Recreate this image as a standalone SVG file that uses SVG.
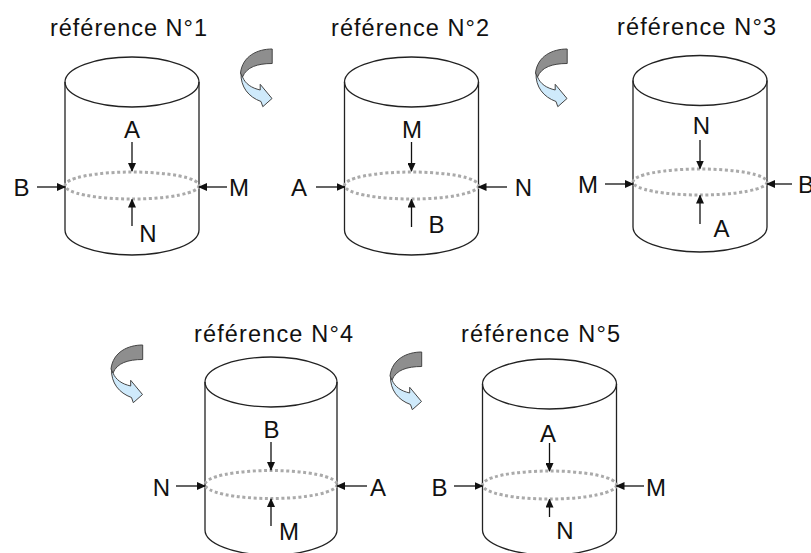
<svg xmlns="http://www.w3.org/2000/svg" width="811" height="553" viewBox="0 0 811 553">
<defs>
<style>
.title{font-family:"Liberation Sans",Arial,sans-serif;font-size:23.5px;fill:#111}
.lbl{font-family:"Liberation Sans",Arial,sans-serif;font-size:24px;fill:#111;text-anchor:middle}
.cyl{fill:none;stroke:#222;stroke-width:1.3}
.dot{fill:none;stroke:#aaa;stroke-width:3;stroke-dasharray:3 2.6}
.arr{fill:none;stroke:#111;stroke-width:1.3;marker-end:url(#ah)}
.gray{fill:#8e8e8e;stroke:#444;stroke-width:1}
.blue{fill:#cfeafb;stroke:#444;stroke-width:1}
</style>
<marker id="ah" markerWidth="9" markerHeight="8" refX="8" refY="4" orient="auto" markerUnits="userSpaceOnUse">
<path d="M0,0 L9,4 L0,8 Z" fill="#111"/>
</marker>
<g id="icon">
<path class="blue" d="M11.5,38 C11,52 19,62 31.5,66.5 L33.3,71.7 L42.5,63.5 L30.7,49.3 L30.7,55 C22,53 16,49 13,42 Z"/>
<path class="gray" d="M42.7,14 C28,14 13,21 11,38 L13,42 C17,32 28,28.5 42.7,28.5 Z"/>
</g>
</defs>
<rect width="811" height="553" fill="#fff"/>

<g id="rot1"><use href="#icon" transform="translate(229.5,35)"/></g>
<g id="rot2"><use href="#icon" transform="translate(524.5,35)"/></g>
<g id="rot3"><use href="#icon" transform="translate(100,331)"/></g>
<g id="rot4"><use href="#icon" transform="translate(379,338)"/></g>

<g id="ref1">
<text class="title" x="50" y="36" textLength="157" lengthAdjust="spacing">référence N°1</text>
<ellipse class="cyl" cx="132" cy="82" rx="67" ry="25"/>
<path class="cyl" d="M65,82 V230 A67,25 0 0 0 199,230 V82"/>
<ellipse class="dot" cx="132" cy="185.5" rx="67" ry="13.5"/>
<text class="lbl" x="132" y="138">A</text>
<text class="lbl" x="21.5" y="196">B</text>
<text class="lbl" x="239" y="196">M</text>
<text class="lbl" x="148" y="242">N</text>
</g>

<g id="ref2">
<text class="title" x="331" y="36" textLength="158" lengthAdjust="spacing">référence N°2</text>
<ellipse class="cyl" cx="411.5" cy="82" rx="67" ry="25"/>
<path class="cyl" d="M344.5,82 V230 A67,25 0 0 0 478.5,230 V82"/>
<ellipse class="dot" cx="411.5" cy="185.5" rx="67" ry="13.5"/>
<text class="lbl" x="412" y="138">M</text>
<text class="lbl" x="299" y="196">A</text>
<text class="lbl" x="523.5" y="196">N</text>
<text class="lbl" x="436.5" y="233">B</text>
</g>

<g id="ref3">
<text class="title" x="617" y="35" textLength="159" lengthAdjust="spacing">référence N°3</text>
<ellipse class="cyl" cx="700" cy="80.5" rx="67" ry="25"/>
<path class="cyl" d="M633,80.5 V227 A67,25 0 0 0 767,227 V80.5"/>
<ellipse class="dot" cx="700" cy="182" rx="67" ry="13"/>
<text class="lbl" x="701.5" y="134">N</text>
<text class="lbl" x="588" y="193">M</text>
<text class="lbl" x="806" y="193">B</text>
<text class="lbl" x="721.5" y="237">A</text>
</g>

<g id="ref4">
<text class="title" x="194" y="342" textLength="159" lengthAdjust="spacing">référence N°4</text>
<ellipse class="cyl" cx="271" cy="382" rx="66" ry="25"/>
<path class="cyl" d="M205,382 V530 A66,25 0 0 0 337,530 V382"/>
<ellipse class="dot" cx="271" cy="484.5" rx="66" ry="14"/>
<text class="lbl" x="271.5" y="438">B</text>
<text class="lbl" x="161.5" y="496">N</text>
<text class="lbl" x="378" y="496">A</text>
<text class="lbl" x="289" y="540">M</text>
</g>

<g id="ref5">
<text class="title" x="461" y="342" textLength="159" lengthAdjust="spacing">référence N°5</text>
<ellipse class="cyl" cx="549.5" cy="384" rx="67" ry="25"/>
<path class="cyl" d="M482.5,384 V530 A67,25 0 0 0 616.5,530 V384"/>
<ellipse class="dot" cx="549.5" cy="485" rx="67" ry="14"/>
<text class="lbl" x="548" y="442">A</text>
<text class="lbl" x="439.5" y="496">B</text>
<text class="lbl" x="656" y="496">M</text>
<text class="lbl" x="565" y="539">N</text>
</g>

<g id="connectors">
<path class="arr" d="M132,142 V171"/>
<path class="arr" d="M37,187 H65"/>
<path class="arr" d="M227,187 H199"/>
<path class="arr" d="M132,226 V199.5"/>

<path class="arr" d="M411.5,142 V171"/>
<path class="arr" d="M316,187 H344.5"/>
<path class="arr" d="M507,187 H478.5"/>
<path class="arr" d="M411.5,227 V199.5"/>

<path class="arr" d="M700,140 V168.5"/>
<path class="arr" d="M605,184 H633"/>
<path class="arr" d="M792,184 H767"/>
<path class="arr" d="M700,224 V195.5"/>

<path class="arr" d="M271,442 V470"/>
<path class="arr" d="M176,486 H205"/>
<path class="arr" d="M367,486 H337"/>
<path class="arr" d="M271,526 V499"/>

<path class="arr" d="M549.5,443 V471"/>
<path class="arr" d="M454,486 H482.5"/>
<path class="arr" d="M644,486 H616.5"/>
<path class="arr" d="M549.5,517 V499.5"/>
</g>
</svg>
